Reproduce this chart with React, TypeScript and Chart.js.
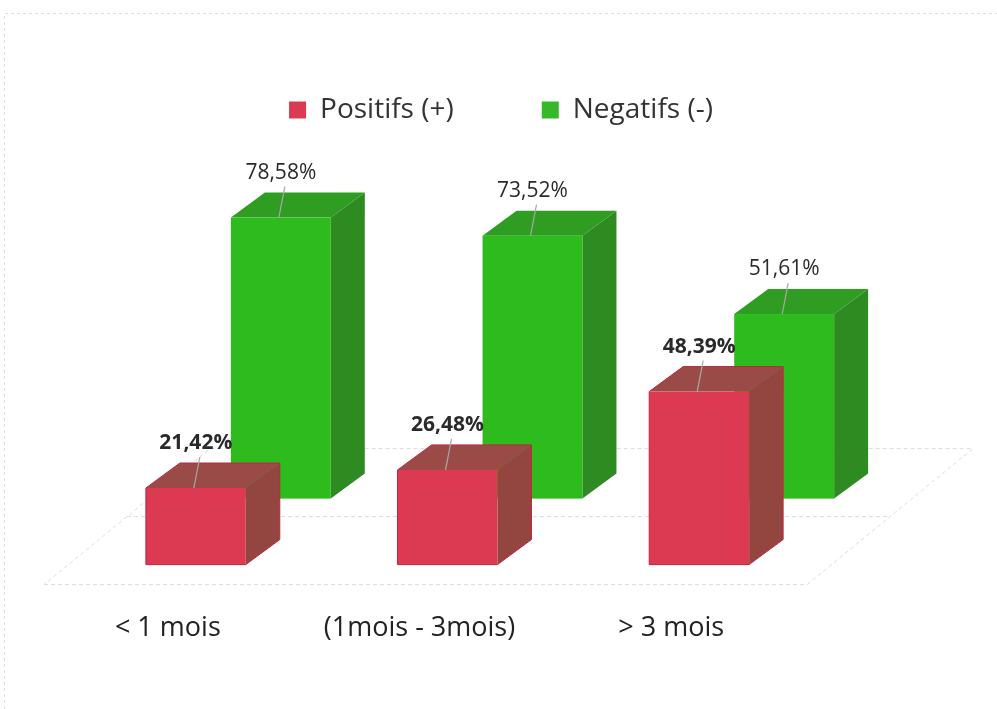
import { useEffect, useRef } from "react";
import { Chart, registerables } from "chart.js";

Chart.register(...registerables);

// ---- data ----
const categories = ["< 1 mois", "(1mois - 3mois)", "> 3 mois"];
const seriesNames = ["Positifs (+)", "Negatifs (-)"];
const positifs = [21.42, 26.48, 48.39];
const negatifs = [78.58, 73.52, 51.61];

// ---- style ----
const FONT = "'Open Sans', Lato, sans-serif";
const DEPTH = { dx: 34, dy: -25 };
const ROW = { dx: 85, dy: -66 };
const FLOOR_FRONT = { dx: -26, dy: 20 };
const FLOOR_BACK = { dx: 166, dy: -136 };

const faces = [
  { front: "#dc3a52", top: "#9a4b47", side: "#93453f", edge: "#c42341" },
  { front: "#2dbb1d", top: "#2f9c22", side: "#2e8b21", edge: "" },
];

function fmt(v: number) {
  return v.toFixed(2).replace(".", ",") + "%";
}

function drawBox(ctx: CanvasRenderingContext2D, l: number, r: number, t: number, b: number, c: any) {
  const { dx, dy } = DEPTH;
  ctx.fillStyle = c.side;
  ctx.beginPath();
  ctx.moveTo(r, t);
  ctx.lineTo(r + dx, t + dy);
  ctx.lineTo(r + dx, b + dy);
  ctx.lineTo(r, b);
  ctx.closePath();
  ctx.fill();
  ctx.fillStyle = c.top;
  ctx.beginPath();
  ctx.moveTo(l, t);
  ctx.lineTo(l + dx, t + dy);
  ctx.lineTo(r + dx, t + dy);
  ctx.lineTo(r, t);
  ctx.closePath();
  ctx.fill();
  ctx.fillStyle = c.front;
  ctx.fillRect(l, t, r - l, b - t);
  if (c.edge) {
    ctx.strokeStyle = c.edge;
    ctx.lineWidth = 1;
    ctx.beginPath();
    ctx.moveTo(l, b);
    ctx.lineTo(l, t);
    ctx.lineTo(l + dx, t + dy);
    ctx.lineTo(r + dx, t + dy);
    ctx.lineTo(r + dx, b + dy);
    ctx.lineTo(r, b);
    ctx.closePath();
    ctx.stroke();
  }
}

const bars3d = {
  id: "bars3d",
  beforeDraw(chart: any) {
    const ctx = chart.ctx as CanvasRenderingContext2D;
    ctx.save();
    ctx.strokeStyle = "#dedede";
    ctx.lineWidth = 1;
    ctx.setLineDash([3, 3]);
    ctx.beginPath();
    ctx.moveTo(4.5, chart.height);
    ctx.lineTo(4.5, 13.5);
    ctx.lineTo(chart.width, 13.5);
    ctx.stroke();
    ctx.restore();
  },
  beforeDatasetsDraw(chart: any) {
    const ctx = chart.ctx as CanvasRenderingContext2D;
    const area = chart.chartArea;
    const base = chart.scales.y.getPixelForValue(0);
    ctx.save();
    // floor
    const fl = area.left + FLOOR_FRONT.dx;
    const fr = area.right + FLOOR_FRONT.dx + 8;
    const fy = base + FLOOR_FRONT.dy;
    ctx.strokeStyle = "#dcdcdc";
    ctx.lineWidth = 1;
    ctx.setLineDash([4, 3]);
    ctx.beginPath();
    ctx.moveTo(fl, fy);
    ctx.lineTo(fr, fy);
    ctx.lineTo(fr + FLOOR_BACK.dx, fy + FLOOR_BACK.dy);
    ctx.lineTo(fl + FLOOR_BACK.dx, fy + FLOOR_BACK.dy);
    ctx.closePath();
    ctx.moveTo(fl + FLOOR_BACK.dx / 2, fy + FLOOR_BACK.dy / 2);
    ctx.lineTo(fr + FLOOR_BACK.dx / 2, fy + FLOOR_BACK.dy / 2);
    ctx.stroke();
    ctx.setLineDash([]);

    const labels: any[] = [];
    [1, 0].forEach((di) => {
      const meta = chart.getDatasetMeta(di);
      const off = di === 1 ? ROW : { dx: 0, dy: 0 };
      const values = chart.data.datasets[di].data as number[];
      meta.data.forEach((el: any, i: number) => {
        const p = el.getProps(["x", "y", "base", "width"], true);
        const l = p.x - p.width / 2 + off.dx;
        const r = p.x + p.width / 2 + off.dx;
        const t = p.y + off.dy;
        const b = p.base + off.dy;
        drawBox(ctx, l, r, t, b, faces[di]);
        labels.push({ cx: (l + r) / 2, t, text: fmt(values[i]), bold: di === 0 });
      });
    });
    // data labels with leader lines
    labels.forEach((lb) => {
      ctx.strokeStyle = "#a8a8a8";
      ctx.lineWidth = 1.2;
      ctx.beginPath();
      ctx.moveTo(lb.cx + 4, lb.t - 31);
      ctx.lineTo(lb.cx - 2, lb.t);
      ctx.stroke();
      ctx.fillStyle = "#2a2a2a";
      ctx.font = `${lb.bold ? "bold " : ""}21px ${FONT}`;
      ctx.textAlign = "center";
      ctx.textBaseline = "middle";
      ctx.fillText(lb.text, lb.cx, lb.t - 45);
    });
    ctx.restore();
    return false;
  },
};

export default function App() {
  const ref = useRef<HTMLCanvasElement | null>(null);
  useEffect(() => {
    if (!ref.current) return;
    const chart = new Chart(ref.current, {
      type: "bar",
      data: {
        labels: categories,
        datasets: [
          { label: seriesNames[0], data: positifs, backgroundColor: faces[0].front, borderWidth: 0 },
          { label: seriesNames[1], data: negatifs, backgroundColor: "#35b928", borderWidth: 0 },
        ],
      },
      options: {
        responsive: true,
        maintainAspectRatio: false,
        animation: false,
        grouped: false,
        categoryPercentage: 1,
        barPercentage: 0.397,
        layout: { padding: { left: 70, right: 65, top: 8, bottom: 16 } },
        plugins: {
          legend: {
            position: "top",
            labels: {
              font: { family: FONT, size: 28 },
              color: "#333",
              boxWidth: 17,
              boxHeight: 17,
              padding: 88,
            },
          },
          tooltip: { enabled: false },
        },
        scales: {
          x: {
            position: "bottom",
            grid: { display: false, drawTicks: false },
            border: { display: false },
            ticks: {
              font: { family: FONT, size: 27 },
              color: "#222",
              padding: 48,
              labelOffset: -28,
              maxRotation: 0,
              autoSkip: false,
            },
          },
          xTop: {
            type: "category",
            position: "top",
            grid: { display: false, drawTicks: false },
            border: { display: false },
            ticks: { display: false },
            afterFit: (s: any) => {
              s.height = 73;
            },
          },
          y: {
            position: "right",
            min: 0,
            max: 100,
            grid: { display: false, drawTicks: false },
            border: { display: false },
            ticks: { display: false },
            afterFit: (s: any) => {
              s.width = 107;
            },
          },
        },
      } as any,
      plugins: [bars3d],
    });
    return () => chart.destroy();
  }, []);
  return (
    <div style={{ position: "fixed", left: 0, top: 0, width: 997, height: 709, background: "#fff" }}>
      <canvas ref={ref} />
    </div>
  );
}
